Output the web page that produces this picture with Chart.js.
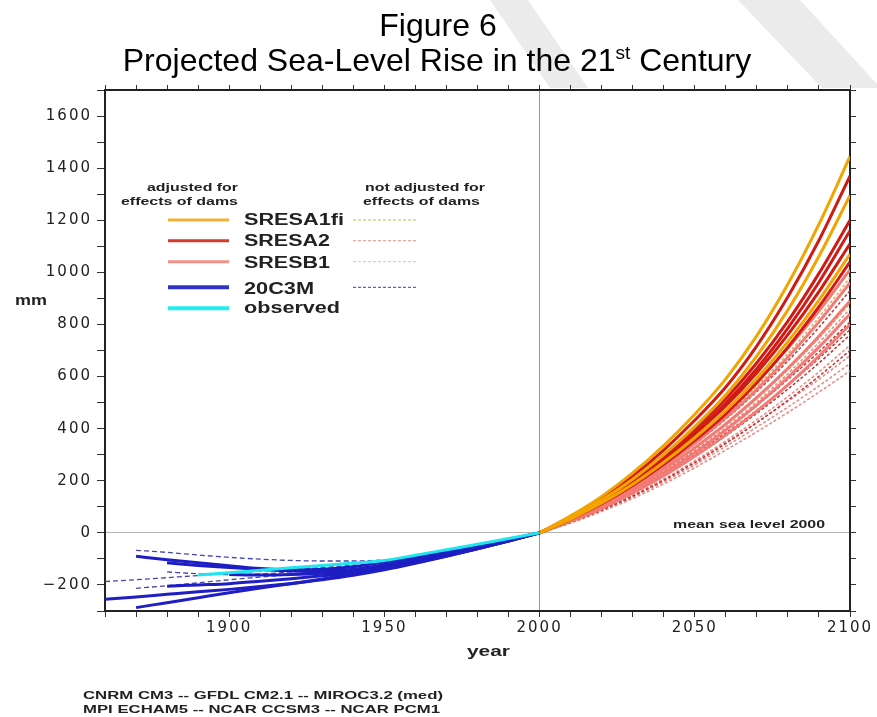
<!DOCTYPE html>
<html>
<head>
<meta charset="utf-8">
<title>Figure 6</title>
<script src="https://cdn.jsdelivr.net/npm/chart.js@4.4.0/dist/chart.umd.min.js"></script>
<style>
  html, body { margin: 0; padding: 0; background: #fff; }
  #wrap { position: relative; width: 877px; height: 717px; overflow: hidden; }
  #wrap svg, #wrap canvas { position: absolute; left: 0; top: 0; }
  .t { font-family: 'Liberation Sans', Arial, sans-serif; fill: #000; }
  .b { font-family: 'Liberation Sans', Arial, sans-serif; font-weight: bold; fill: #222; }
</style>
</head>
<body>
<div id="wrap">
  <svg id="bg" width="877" height="717">
    <polygon points="490,0 528,0 588,88 550,88" fill="#ebebeb"/>
    <polygon points="738,0 800,0 877,84 877,88 822,88" fill="#ebebeb"/>
  </svg>
  <canvas id="myChart" width="877" height="717"></canvas>
  <svg id="fg" width="877" height="717">
    <text class="t" x="438" y="36" text-anchor="middle" font-size="32">Figure 6</text>
    <text class="t" x="437" y="71" text-anchor="middle" font-size="32">Projected Sea-Level Rise in the 21<tspan font-size="19" dy="-12">st</tspan><tspan dy="12"> Century</tspan></text>

    <text class="b" x="238" y="190.5" text-anchor="end" font-size="11" textLength="91" lengthAdjust="spacingAndGlyphs">adjusted for</text>
    <text class="b" x="238" y="205" text-anchor="end" font-size="11" textLength="117" lengthAdjust="spacingAndGlyphs">effects of dams</text>
    <text class="b" x="365" y="190.5" font-size="11" textLength="120" lengthAdjust="spacingAndGlyphs">not adjusted for</text>
    <text class="b" x="363" y="205" font-size="11" textLength="117" lengthAdjust="spacingAndGlyphs">effects of dams</text>

    <line x1="168" x2="229" y1="220" y2="220" stroke="#f2b134" stroke-width="3"/>
    <line x1="168" x2="229" y1="240.7" y2="240.7" stroke="#d63a2c" stroke-width="3"/>
    <line x1="168" x2="229" y1="261.7" y2="261.7" stroke="#f19288" stroke-width="3"/>
    <line x1="168" x2="229" y1="287.3" y2="287.3" stroke="#3232c4" stroke-width="4"/>
    <line x1="168" x2="229" y1="308.3" y2="308.3" stroke="#22eef0" stroke-width="4"/>

    <line x1="353" x2="416" y1="220" y2="220" stroke="#d6d28a" stroke-width="1.3" stroke-dasharray="3,2"/>
    <line x1="353" x2="416" y1="240.7" y2="240.7" stroke="#eea59e" stroke-width="1.3" stroke-dasharray="3,2"/>
    <line x1="353" x2="416" y1="261.7" y2="261.7" stroke="#f4c4c2" stroke-width="1.3" stroke-dasharray="3,2"/>
    <line x1="353" x2="416" y1="287.3" y2="287.3" stroke="#6262c2" stroke-width="1.3" stroke-dasharray="3,2"/>

    <text class="b" x="244" y="225" font-size="16" textLength="100" lengthAdjust="spacingAndGlyphs">SRESA1fi</text>
    <text class="b" x="244" y="246" font-size="16" textLength="86" lengthAdjust="spacingAndGlyphs">SRESA2</text>
    <text class="b" x="244" y="268.3" font-size="16" textLength="86" lengthAdjust="spacingAndGlyphs">SRESB1</text>
    <text class="b" x="244" y="294" font-size="16" textLength="70" lengthAdjust="spacingAndGlyphs">20C3M</text>
    <text class="b" x="244" y="313.3" font-size="16" textLength="96" lengthAdjust="spacingAndGlyphs">observed</text>

    <text class="b" x="673" y="528" font-size="10.5" textLength="152" lengthAdjust="spacingAndGlyphs">mean sea level 2000</text>
    <text class="b" x="15" y="305" font-size="14" textLength="32" lengthAdjust="spacingAndGlyphs">mm</text>
    <text class="b" x="467" y="656" font-size="15" textLength="43" lengthAdjust="spacingAndGlyphs">year</text>

    <text class="b" x="83" y="699" font-size="10" textLength="360" lengthAdjust="spacingAndGlyphs">CNRM CM3 -- GFDL CM2.1 -- MIROC3.2 (med)</text>
    <text class="b" x="83" y="713" font-size="10" textLength="357" lengthAdjust="spacingAndGlyphs">MPI ECHAM5 -- NCAR CCSM3 -- NCAR PCM1</text>
  </svg>
</div>
<script>
// years
const histYears = [1860, 1870, 1880, 1890, 1900, 1910, 1920, 1930, 1940, 1950, 1960, 1970, 1980, 1990, 2000];
const futYears = [2000, 2010, 2020, 2030, 2040, 2050, 2060, 2070, 2080, 2090, 2100];

// 20C3M, adjusted for dams (mm)
const c20Adj1 = [null, -90, -103, -115, -126, -137, -142, -140, -130, -112, -92, -70, -48, -24, 0];
const c20Adj2 = [null, null, -115, -125, -133, -140, -146, -148, -140, -122, -100, -77, -53, -27, 0];
const c20Adj3 = [-255, -246, -236, -226, -217, -206, -194, -180, -163, -142, -117, -90, -61, -31, 0];
const c20Adj4 = [null, -287, -268, -249, -230, -212, -195, -177, -158, -138, -115, -89, -61, -31, 0];
const c20Adj5 = [null, null, -205, -200, -195, -186, -176, -165, -152, -135, -113, -88, -60, -31, 0];
const c20Adj6 = [null, null, null, null, -160, -162, -160, -155, -145, -128, -106, -82, -56, -28, 0];
// 20C3M, not adjusted
const c20Raw1 = [null, -67, -75, -85, -94, -101, -106, -108, -108, -104, -93, -75, -52, -27, 0];
const c20Raw2 = [-187, -180, -172, -164, -155, -147, -140, -133, -124, -112, -94, -73, -50, -26, 0];
const c20Raw3 = [null, -213, -203, -192, -180, -170, -160, -150, -138, -123, -104, -81, -56, -29, 0];
const c20Raw4 = [null, null, -150, -157, -160, -158, -150, -140, -128, -115, -98, -77, -54, -28, 0];
// observed
const observed = [null, null, null, -162, -153, -144, -134, -125, -116, -106, -86, -65, -44, -22, 0];

// SRESA1fi adjusted
const a1fiAdj1 = [0, 65, 140, 230, 335, 455, 591, 757, 955, 1185, 1445];
const a1fiAdj2 = [0, 58, 126, 206, 300, 408, 530, 679, 856, 1062, 1295];
const a1fiAdj3 = [0, 53, 115, 187, 271, 365, 470, 593, 734, 893, 1070];
// SRESA2 adjusted
const a2Adj1 = [0, 62, 133, 218, 318, 432, 560, 718, 906, 1123, 1370];
const a2Adj2 = [0, 58, 125, 204, 295, 399, 515, 653, 813, 996, 1200];
const a2Adj3 = [0, 56, 121, 197, 285, 386, 498, 631, 786, 962, 1160];
const a2Adj4 = [0, 55, 119, 194, 281, 379, 488, 615, 761, 926, 1110];
const a2Adj5 = [0, 52, 112, 182, 263, 355, 457, 576, 713, 868, 1040];
// SRESB1 adjusted
const b1Adj1 = [0, 54, 116, 187, 270, 362, 465, 580, 709, 852, 1010];
const b1Adj2 = [0, 51, 110, 178, 256, 344, 442, 551, 674, 810, 960];
const b1Adj3 = [0, 49, 105, 170, 244, 327, 418, 520, 632, 755, 890];
const b1Adj4 = [0, 46, 99, 160, 230, 308, 395, 491, 597, 713, 840];
const b1Adj5 = [0, 44, 94, 153, 219, 294, 376, 467, 568, 679, 800];
// not adjusted
const a1fiRaw1 = [0, 52, 112, 182, 262, 351, 451, 563, 688, 827, 980];
const a1fiRaw2 = [0, 48, 104, 168, 241, 323, 414, 514, 625, 747, 880];
const a2Raw1 = [0, 51, 110, 177, 255, 341, 437, 543, 660, 789, 930];
const a2Raw2 = [0, 47, 101, 163, 233, 312, 397, 489, 589, 695, 810];
const a2Raw3 = [0, 45, 98, 157, 225, 300, 383, 471, 567, 670, 780];
const a2Raw4 = [0, 44, 95, 153, 219, 292, 373, 459, 552, 652, 760];
const a2Raw5 = [0, 40, 88, 141, 202, 269, 343, 423, 509, 601, 700];
const b1Raw1 = [0, 47, 101, 164, 236, 316, 404, 502, 611, 730, 860];
const b1Raw2 = [0, 42, 90, 145, 207, 277, 353, 435, 523, 618, 720];
const b1Raw3 = [0, 41, 90, 144, 205, 273, 347, 424, 505, 590, 680];
const b1Raw4 = [0, 40, 86, 138, 196, 261, 332, 406, 483, 564, 650];
const b1Raw5 = [0, 38, 82, 132, 188, 250, 318, 388, 462, 540, 622];

function pts(years, vals) {
  var out = [];
  for (var i = 0; i < years.length; i++) {
    if (vals[i] !== null) out.push({ x: years[i], y: vals[i] });
  }
  return out;
}

function line(vals, years, color, width, dash, order) {
  return {
    data: pts(years, vals),
    borderColor: color,
    borderWidth: width,
    borderDash: dash || [],
    pointRadius: 0,
    cubicInterpolationMode: 'monotone',
    fill: false,
    order: order
  };
}

const ORANGE = '#f2a400', RED = '#d11a14', SALMON = '#f27b76', BLUE = '#1e1ec4', CYAN = '#1ee6ee';
const D = [3, 2];

const datasets = [
  line(observed, histYears, CYAN, 3, null, 0),
  line(c20Adj1, histYears, BLUE, 3, null, 1),
  line(c20Adj2, histYears, BLUE, 3, null, 1),
  line(c20Adj3, histYears, BLUE, 3, null, 1),
  line(c20Adj4, histYears, BLUE, 3, null, 1),
  line(c20Adj5, histYears, BLUE, 3, null, 1),
  line(c20Adj6, histYears, BLUE, 3, null, 1),
  line(c20Raw1, histYears, '#4646b4', 1.3, [5, 3], 4),
  line(c20Raw2, histYears, '#4646b4', 1.3, [5, 3], 4),
  line(c20Raw3, histYears, '#4646b4', 1.3, [5, 3], 4),
  line(c20Raw4, histYears, '#4646b4', 1.3, [5, 3], 4),

  line(a1fiAdj1, futYears, ORANGE, 3, null, 1),
  line(a1fiAdj2, futYears, ORANGE, 3, null, 1),
  line(a1fiAdj3, futYears, ORANGE, 3, null, 1),
  line(a2Adj1, futYears, RED, 3, null, 2),
  line(a2Adj2, futYears, RED, 3, null, 2),
  line(a2Adj3, futYears, RED, 3, null, 2),
  line(a2Adj4, futYears, RED, 3, null, 2),
  line(a2Adj5, futYears, RED, 3, null, 2),
  line(b1Adj1, futYears, SALMON, 3, null, 3),
  line(b1Adj2, futYears, SALMON, 3, null, 3),
  line(b1Adj3, futYears, SALMON, 3, null, 3),
  line(b1Adj4, futYears, SALMON, 3, null, 3),
  line(b1Adj5, futYears, SALMON, 3, null, 3),

  line(a1fiRaw1, futYears, '#e0a860', 1.5, D, 5),
  line(a1fiRaw2, futYears, '#e0a860', 1.5, D, 5),
  line(a2Raw1, futYears, '#c83232', 1.5, D, 5),
  line(a2Raw2, futYears, '#c83232', 1.5, D, 5),
  line(a2Raw3, futYears, '#c83232', 1.5, D, 5),
  line(a2Raw4, futYears, '#c83232', 1.5, D, 5),
  line(a2Raw5, futYears, '#c83232', 1.5, D, 5),
  line(b1Raw1, futYears, '#ec8682', 1.5, D, 5),
  line(b1Raw2, futYears, '#ec8682', 1.5, D, 5),
  line(b1Raw3, futYears, '#ec8682', 1.5, D, 5),
  line(b1Raw4, futYears, '#ec8682', 1.5, D, 5),
  line(b1Raw5, futYears, '#ec8682', 1.5, D, 5)
];

// wide tick labels like the original plot
const tickSpacing = {
  id: 'tickSpacing',
  beforeDraw: function (chart) { chart.ctx.letterSpacing = '2px'; },
  afterDraw: function (chart) { chart.ctx.letterSpacing = '0px'; }
};

const tickFont = { family: 'DejaVu Sans', size: 15 };
const frame = { color: '#222', width: 2 };

const config = {
  type: 'line',
  data: { datasets: datasets },
  options: {
    responsive: false,
    animation: false,
    layout: { padding: 0 },
    plugins: { legend: { display: false }, tooltip: { enabled: false } },
    scales: {
      x: {
        type: 'linear', position: 'bottom', min: 1860, max: 2100,
        afterFit: function (s) { s.height = 106; },
        ticks: {
          stepSize: 10, autoSkip: false, maxRotation: 0, padding: 2, color: '#222', font: tickFont,
          callback: function (v) { return v % 50 === 0 ? String(v) : ''; }
        },
        grid: {
          color: function (c) { return c.tick && c.tick.value === 2000 ? '#9a9a9a' : 'rgba(0,0,0,0)'; },
          tickColor: '#333', tickLength: 6, lineWidth: 1
        },
        border: frame
      },
      x2: {
        type: 'linear', position: 'top', min: 1860, max: 2100,
        afterFit: function (s) { s.height = 90; },
        ticks: { display: false, stepSize: 10, autoSkip: false },
        grid: { drawOnChartArea: false, tickColor: '#333', tickLength: 5 },
        border: frame
      },
      y: {
        type: 'linear', position: 'left', min: -300, max: 1700,
        afterFit: function (s) { s.width = 105; },
        ticks: {
          stepSize: 100, autoSkip: false, padding: 5, color: '#222', font: tickFont,
          callback: function (v) {
            if (v % 200 !== 0) return '';
            return v < 0 ? '\u2212' + Math.abs(v) : String(v);
          }
        },
        grid: {
          color: function (c) { return c.tick && c.tick.value === 0 ? '#b4b4b4' : 'rgba(0,0,0,0)'; },
          tickColor: '#333', tickLength: 8, lineWidth: 1
        },
        border: frame
      },
      y2: {
        type: 'linear', position: 'right', min: -300, max: 1700,
        afterFit: function (s) { s.width = 27; },
        ticks: { display: false, stepSize: 100, autoSkip: false },
        grid: { drawOnChartArea: false, tickColor: '#333', tickLength: 6 },
        border: frame
      }
    }
  },
  plugins: [tickSpacing]
};

const myChart = new Chart(document.getElementById('myChart'), config);
</script>
</body>
</html>
